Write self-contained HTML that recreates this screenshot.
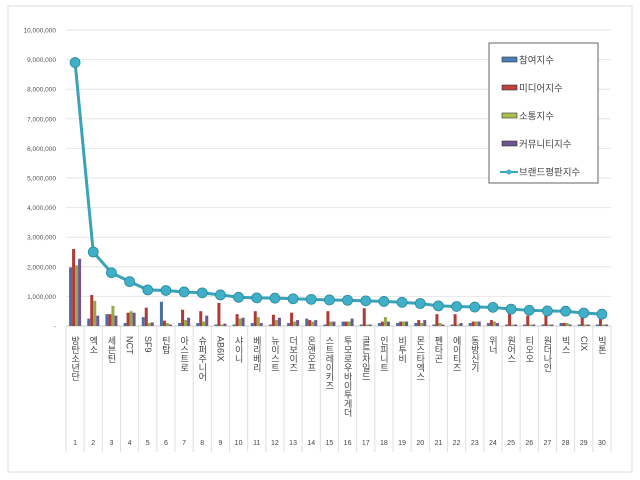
<!DOCTYPE html>
<html><head><meta charset="utf-8"><style>
body{margin:0;background:#fff;}
svg{display:block;font-family:"Liberation Sans","Noto Sans CJK KR",sans-serif;}
</style></head><body>
<svg id="c" width="640" height="480">
<rect x="8" y="6" width="624" height="466" fill="#fff" stroke="#ddd"/>
<g id="grid"></g><g id="bars"></g><g id="line"></g><g id="labels"></g>
<g id="legend">
<rect x="489" y="43" width="109" height="140" fill="#fff" stroke="#666"/>
</g>
</svg>
<script>
const categories=["방탄소년단","엑소","세븐틴","NCT","SF9","틴탑","아스트로","슈퍼주니어","AB6IX","샤이니","베리베리","뉴이스트","더보이즈","온앤오프","스트레이키즈","투모로우바이투게더","골든차일드","인피니트","비투비","몬스타엑스","펜타곤","에이티즈","동방신기","위너","원어스","티오오","원더나인","빅스","CIX","빅톤"];
const participation=[1.98,0.25,0.4,0.1,0.3,0.82,0.1,0.1,0.05,0.05,0.1,0.05,0.1,0.25,0.05,0.15,0.05,0.1,0.1,0.1,0.05,0.05,0.1,0.1,0.05,0.05,0.05,0.1,0.05,0.05];
const media=[2.6,1.05,0.4,0.45,0.62,0.18,0.55,0.5,0.78,0.4,0.5,0.38,0.45,0.2,0.5,0.15,0.6,0.15,0.15,0.2,0.4,0.4,0.15,0.2,0.5,0.35,0.4,0.1,0.4,0.25];
const communication=[2.05,0.85,0.68,0.5,0.1,0.1,0.2,0.15,0.05,0.25,0.3,0.2,0.15,0.15,0.15,0.15,0.05,0.3,0.15,0.1,0.1,0.05,0.15,0.15,0.05,0.05,0.05,0.1,0.05,0.05];
const community=[2.27,0.35,0.35,0.45,0.12,0.05,0.28,0.35,0.08,0.28,0.1,0.28,0.2,0.2,0.15,0.25,0.05,0.15,0.15,0.2,0.05,0.1,0.15,0.1,0.05,0.05,0.05,0.05,0.05,0.05];
const brand=[8.9,2.5,1.8,1.5,1.22,1.2,1.15,1.12,1.05,0.97,0.95,0.94,0.92,0.9,0.88,0.87,0.85,0.83,0.8,0.76,0.68,0.66,0.64,0.63,0.57,0.53,0.51,0.5,0.44,0.4];
const yTicks=[0,1,2,3,4,5,6,7,8,9,10];
const yTickLabels=["-","1,000,000","2,000,000","3,000,000","4,000,000","5,000,000","6,000,000","7,000,000","8,000,000","9,000,000","10,000,000"];
const legendNames=["참여지수","미디어지수","소통지수","커뮤니티지수","브랜드평판지수"];
const NS="http://www.w3.org/2000/svg";
const x0=66,x1=611,yb=326,yt=30;
const step=(x1-x0)/categories.length;
const X=i=>x0+step*(i+0.5);
const Y=v=>yb-(v/10)*(yb-yt);
function mk(tag,attrs,parent){const e=document.createElementNS(NS,tag);for(const k in attrs)e.setAttribute(k,attrs[k]);document.querySelector(parent).appendChild(e);return e;}
yTicks.forEach((t,i)=>{
 const l=mk('line',{x1:x0,x2:x1,y1:Y(t),y2:Y(t),stroke:'#e6e6e6'},'#grid');
 
 
 const tx=mk('text',{x:56,y:Y(t)+2.5,'font-size':6.5,fill:'#555','text-anchor':'end'},'#grid');
 tx.textContent=yTickLabels[i];
 
 
});
for(let i=0;i<=categories.length;i++){
 const l=mk('line',{x1:x0+step*i,x2:x0+step*i,y1:yb,y2:452,stroke:'#e0e0e0'},'#grid');
 
 
}
const series=[participation,media,communication,community];
const cols=['#4a6fa5','#b03a35','#93a84a','#6d5691'];
const names=['bar-participation','bar-media','bar-communication','bar-community'];
categories.forEach((c,i)=>{
 series.forEach((s,j)=>{
  const r=mk('rect',{x:X(i)-6+j*3,y:Y(s[i]),width:3,height:yb-Y(s[i]),fill:cols[j]},'#bars');
  
  
 });
 const t=mk('text',{x:X(i),y:336,'font-size':9,fill:'#444',style:'writing-mode:vertical-rl;text-orientation:mixed'},'#labels');
 t.textContent=c;
 
 
 const n=mk('text',{x:X(i),y:445,'font-size':7,fill:'#444','text-anchor':'middle'},'#labels');
 n.textContent=String(i+1);
 
 
});
mk('line',{x1:x0,x2:x1,y1:yb,y2:yb,stroke:'#ccc'},'#grid');
const pts=brand.map((v,i)=>X(i)+','+Y(v)).join(' ');
const pl=mk('polyline',{points:pts,fill:'none',stroke:'#3ba3b8','stroke-width':3},'#line');


brand.forEach((v,i)=>{
 const c=mk('circle',{cx:X(i),cy:Y(v),r:5,fill:'#3fb0c8',stroke:'#2b8a9c','stroke-width':0.8},'#line');
 
 
});
const lcols=['#4a7fb8','#c0403a','#a8c050','#6d5691'];
legendNames.forEach((nm,i)=>{
 const y=60+i*28;
 if(i<4){const r=mk('rect',{x:502,y:y-3,width:15,height:5,fill:lcols[i],stroke:'#333','stroke-width':0.6},'#legend');
  
  }
 else{const ln=mk('line',{x1:500,x2:518,y1:y,y2:y,stroke:'#3ba3b8','stroke-width':2},'#legend');
  
  
  const c=mk('circle',{cx:509,cy:y,r:2.5,fill:'#3fb0c8'},'#legend');
  
  }
 const t=mk('text',{x:519,y:y+3.5,'font-size':9.5,fill:'#444'},'#legend');
 t.textContent=nm;
 
 
});
</script>
</body></html>
